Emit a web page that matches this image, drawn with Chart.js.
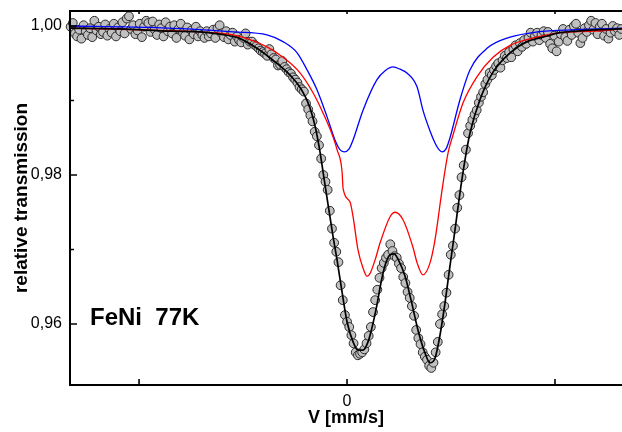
<!DOCTYPE html>
<html><head><meta charset="utf-8">
<script src="https://cdn.jsdelivr.net/npm/chart.js@4.4.0/dist/chart.umd.min.js"></script>
<style>html,body{margin:0;padding:0;background:#fff;} #wrap{width:622px;height:432px;}</style>
</head><body><div id="wrap"><canvas id="c" width="622" height="432"></canvas></div>
<script>
// Measured channels (relative transmission), velocity channels evenly spaced
const velocityStart = -1.329, velocityStep = 0.010385;
const transmission = [
0.9999,1.0004,0.9990,0.9986,0.9995,0.9983,1.0001,0.9993,0.9988,0.9997,
0.9985,1.0007,0.9994,0.9999,0.9989,0.9992,1.0002,0.9987,0.9996,0.9991,
1.0003,0.9986,0.9998,0.9993,1.0005,0.9990,1.0010,1.0013,0.9996,1.0001,
0.9989,0.9994,1.0003,0.9985,0.9999,1.0007,1.0004,0.9992,1.0006,0.9995,
0.9988,1.0002,0.9997,0.9986,1.0005,0.9993,0.9999,0.9990,1.0001,0.9984,
0.9996,1.0003,0.9991,0.9987,0.9998,0.9982,0.9994,0.9989,0.9999,0.9986,
0.9993,
0.9988,0.9984,0.9993,0.9986,0.9990,0.9995,0.9984,0.9997,1.0001,0.9990,
0.9985,0.9993,0.9982,0.9988,0.9991,0.9979,0.9986,0.9981,0.9978,0.9984,
0.9990,0.9975,0.9979,
0.9979,0.9975,0.9973,0.9970,0.9967,0.9965,0.9963,0.9960,0.9969,0.9962,
0.9957,0.9955,0.9947,0.9948,0.9953,0.9945,0.9942,0.9938,0.9936,0.9931,
0.9928,0.9924,0.9918,0.9915,0.9912,0.9896,0.9888,0.9880,0.9872,0.9858,
0.9852,0.9840,
0.9822,0.9800,0.9791,0.9780,0.9752,0.9728,0.9709,0.9697,0.9683,0.9652,
0.9632,0.9612,0.9603,0.9596,0.9585,0.9574,0.9562,0.9558,0.9560,0.9562,
0.9566,0.9574,0.9584,0.9596,0.9616,0.9632,0.9646,0.9662,
0.9675,0.9682,0.9689,0.9693,0.9707,0.9698,0.9691,0.9689,0.9681,0.9675,
0.9663,0.9655,0.9643,0.9635,0.9624,0.9611,0.9592,0.9581,0.9573,0.9562,
0.9556,0.9552,0.9544,0.9541,0.9548,0.9562,0.9576,0.9600,0.9613,0.9624,
0.9642,0.9666,0.9693,0.9705,0.9728,0.9756,0.9773,0.9797,0.9813,0.9834,
0.9856,0.9866,0.9874,0.9881,0.9887,0.9897,0.9905,0.9911,0.9922,0.9928,
0.9937,0.9934,0.9941,0.9946,0.9950,0.9944,0.9954,0.9960,0.9957,0.9965,
0.9958,0.9969,0.9974,0.9966,0.9977,0.9972,0.9981,0.9976,0.9984,0.9991,
0.9979,0.9987,0.9991,0.9981,0.9988,0.9993,0.9984,0.9992,0.9976,0.9970,
0.9987,0.9966,0.9979,0.9989,0.9996,0.9985,0.9980,0.9995,0.9988,1.0000,
1.0003,0.9991,0.9977,0.9984,0.9997,0.9992,1.0001,1.0007,0.9995,1.0004,
0.9989,0.9999,1.0003,0.9987,0.9996,0.9983,0.9991,1.0000,0.9993,0.9997,
0.9988,0.9996
];

// Total fit (black)
const fitV = [-1.332,-1.091,-0.851,-0.707,-0.611,-0.514,-0.433,-0.356,-0.288,-0.240,-0.202,-0.178,-0.154,-0.130,-0.111,-0.091,-0.067,-0.048,-0.024,0.000,0.029,0.053,0.077,0.101,0.120,0.144,0.163,0.183,0.207,0.226,0.245,0.279,0.308,0.341,0.375,0.399,0.423,0.447,0.471,0.495,0.519,0.543,0.567,0.591,0.639,0.702,0.784,0.865,0.942,1.024,1.106,1.216,1.322];
const fitT = [0.9997,0.9996,0.9993,0.9992,0.9989,0.9983,0.9970,0.9954,0.9938,0.9923,0.9906,0.9890,0.9866,0.9831,0.9796,0.9760,0.9717,0.9686,0.9643,0.9603,0.9576,0.9565,0.9565,0.9576,0.9595,0.9626,0.9655,0.9679,0.9693,0.9694,0.9687,0.9664,0.9632,0.9592,0.9561,0.9548,0.9554,0.9585,0.9628,0.9678,0.9726,0.9776,0.9820,0.9856,0.9901,0.9938,0.9964,0.9979,0.9985,0.9991,0.9993,0.9995,0.9996];

// Sub-spectrum 1 (red)
const redV = [-1.332,-1.043,-0.707,-0.548,-0.385,-0.308,-0.226,-0.163,-0.115,-0.067,-0.048,-0.024,-0.019,0.014,0.029,0.053,0.077,0.096,0.111,0.135,0.159,0.207,0.231,0.269,0.317,0.337,0.365,0.399,0.423,0.457,0.486,0.510,0.558,0.625,0.702,0.784,0.913,1.024,1.183,1.322];
const redT = [0.9997,0.9995,0.9992,0.9988,0.9972,0.9958,0.9937,0.9910,0.9883,0.9851,0.9834,0.9805,0.9782,0.9764,0.9744,0.9699,0.9675,0.9664,0.9668,0.9686,0.9709,0.9744,0.9750,0.9740,0.9703,0.9682,0.9666,0.9682,0.9713,0.9780,0.9830,0.9854,0.9897,0.9932,0.9958,0.9974,0.9985,0.9991,0.9993,0.9996];

// Sub-spectrum 2 (blue)
const blueV = [-1.332,-0.947,-0.707,-0.548,-0.385,-0.308,-0.240,-0.192,-0.144,-0.096,-0.058,-0.034,-0.014,0.010,0.029,0.077,0.144,0.183,0.221,0.255,0.288,0.337,0.365,0.399,0.423,0.442,0.457,0.476,0.495,0.543,0.591,0.673,0.784,0.913,1.106,1.322];
const blueT = [1.0000,0.9998,0.9995,0.9992,0.9988,0.9979,0.9964,0.9941,0.9914,0.9878,0.9847,0.9834,0.9831,0.9835,0.9847,0.9887,0.9928,0.9940,0.9945,0.9942,0.9937,0.9918,0.9887,0.9859,0.9843,0.9834,0.9831,0.9835,0.9850,0.9901,0.9941,0.9970,0.9985,0.9992,0.9995,0.9997];

const yTickValues = [0.96, 0.98, 1.00];
const yMinorTicks = [0.97, 0.99];
const xTickValues = [-1, 0, 1];
const xLabeledTicks = [0];
const sampleLabel = 'FeNi  77K';
const xTitle = 'V [mm/s]';
const yTitle = 'relative transmission';

const FONT = 'Liberation Sans, Arial, sans-serif';
const pts = transmission.map((t, i) => ({x: velocityStart + i * velocityStep, y: t}));
const toXY = (vs, ts) => vs.map((v, i) => ({x: v, y: ts[i]}));

const framePlugin = {
  id: 'frame',
  afterDraw(chart) {
    const {ctx, chartArea: a, scales: {x, y}} = chart;
    ctx.save();
    ctx.strokeStyle = '#000';
    ctx.lineWidth = 2;
    ctx.beginPath();
    ctx.moveTo(a.right + 2, a.top); ctx.lineTo(a.left, a.top);
    ctx.lineTo(a.left, a.bottom); ctx.lineTo(a.right + 2, a.bottom);
    ctx.stroke();
    ctx.lineWidth = 1.6;
    ctx.beginPath();
    yTickValues.forEach(v => { const p = y.getPixelForValue(v); ctx.moveTo(a.left, p); ctx.lineTo(a.left + 7, p); });
    yMinorTicks.forEach(v => { const p = y.getPixelForValue(v); ctx.moveTo(a.left, p); ctx.lineTo(a.left + 4, p); });
    xTickValues.forEach(v => {
      const p = x.getPixelForValue(v);
      ctx.moveTo(p, a.bottom); ctx.lineTo(p, a.bottom - 6);
      ctx.moveTo(p, a.top); ctx.lineTo(p, a.top + 3);
    });
    ctx.stroke();
    ctx.fillStyle = '#000';
    ctx.font = 'bold 24px ' + FONT;
    ctx.textAlign = 'left';
    ctx.textBaseline = 'alphabetic';
    ctx.fillText(sampleLabel, a.left + 20, y.getPixelForValue(0.96) + 1);
    ctx.restore();
  }
};

new Chart(document.getElementById('c'), {
  type: 'scatter',
  data: {
    datasets: [
      {data: toXY(fitV, fitT), showLine: true, borderColor: '#000', borderWidth: 1.7, pointRadius: 0, cubicInterpolationMode: 'monotone', fill: false},
      {data: toXY(redV, redT), showLine: true, borderColor: '#ff0000', borderWidth: 1.3, pointRadius: 0, cubicInterpolationMode: 'monotone', fill: false},
      {data: toXY(blueV, blueT), showLine: true, borderColor: '#0000ff', borderWidth: 1.3, pointRadius: 0, cubicInterpolationMode: 'monotone', fill: false},
      {data: pts, showLine: false, pointRadius: 4.4, pointBackgroundColor: '#c0c0c0', pointBorderColor: '#2a2a2a', pointBorderWidth: 1, clip: false}
    ]
  },
  options: {
    responsive: false, animation: false, devicePixelRatio: 1,
    layout: {autoPadding: false, padding: {top: 11, right: 0, bottom: 0, left: 0}},
    plugins: {legend: {display: false}, tooltip: {enabled: false}},
    scales: {
      x: {
        type: 'linear', min: -1.332, max: 1.3221,
        grid: {display: false, drawTicks: false}, border: {display: false},
        afterBuildTicks: s => { s.ticks = xTickValues.map(v => ({value: v})); },
        afterFit: s => { s.height = 47; s.paddingLeft = 0; s.paddingRight = 0; },
        ticks: {padding: 7, autoSkip: false, maxRotation: 0, color: '#000',
          font: {family: FONT, size: 16},
          callback: v => xLabeledTicks.includes(v) ? String(v) : ''},
        title: {display: true, text: xTitle, color: '#000',
          font: {family: FONT, size: 18, weight: 'bold'}, padding: {top: 0, bottom: 3}}
      },
      y: {
        type: 'linear', min: 0.951812, max: 1.00201,
        grid: {display: false, drawTicks: false}, border: {display: false},
        afterBuildTicks: s => { s.ticks = yTickValues.map(v => ({value: v})); },
        afterFit: s => { s.width = 70; s.paddingTop = 0; s.paddingBottom = 0; },
        ticks: {padding: 8, color: '#000', font: {family: FONT, size: 16},
          callback: v => v.toFixed(2).replace('.', ',')},
        title: {display: true, text: yTitle, color: '#000',
          font: {family: FONT, size: 19, weight: 'bold'}, padding: {top: 10, bottom: 0}}
      }
    }
  },
  plugins: [framePlugin]
});
</script>
</body></html>
